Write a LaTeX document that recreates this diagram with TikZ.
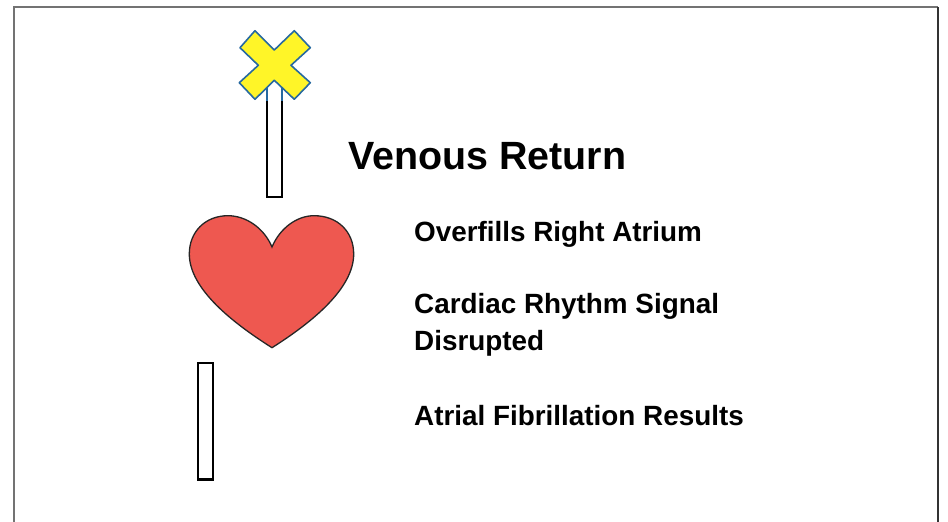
\documentclass[tikz,border=0pt]{standalone}
\usepackage{xcolor}
\usepackage{fontspec}
\setmainfont{Liberation Sans}
\definecolor{heartred}{RGB}{238,88,80}
\definecolor{crossyellow}{RGB}{255,245,40}
\definecolor{crossblue}{RGB}{38,105,160}
\tikzset{
    title/.style={anchor=base west, inner sep=0pt, font=\bfseries\fontsize{39.4}{44}\selectfont},
    item/.style={anchor=base west, inner sep=0pt, font=\bfseries\fontsize{27.85}{37}\selectfont},
    tube/.style={draw=black, line width=2.2pt, fill=white},
    frame/.style={draw=black!55, line width=1.5pt}
}

\begin{document}
\begin{tikzpicture}[x=1pt, y=-1pt]
    \useasboundingbox (0, 0) rectangle (948, 522);

    \draw[frame] (14, 522) -- (14, 7) -- (938, 7);
    \draw[draw=black!80, line width=1.2pt] (938, 7) -- (938, 522);

    \draw[tube] (267, 80) rectangle (282, 197);
    \draw[tube] (198, 363) rectangle (213, 479.5);
    \draw[crossblue, line width=2.2pt] (267, 85) -- (267, 101);
    \draw[crossblue, line width=2.2pt] (282, 85) -- (282, 101);

    \draw[draw=crossblue, fill=crossyellow, line width=1.6pt, line join=round]
        (255, 30.7) -- (274.3, 50) -- (294.3, 30.7) -- (310.3, 47.7) -- (291, 65.3)
        -- (310.3, 82.7) -- (294.3, 99.3) -- (274.3, 80.3) -- (255, 99.3)
        -- (239.3, 82.7) -- (258.3, 65.3) -- (240, 47.7) -- cycle;

    \draw[draw=black!85, fill=heartred, line width=1.3pt]
        (272, 247) .. controls (264, 228) and (246, 215.7) .. (228, 215.7)
        .. controls (205, 215.7) and (189.3, 232) .. (189.3, 254)
        .. controls (189.3, 289) and (233, 323) .. (272, 347.7)
        .. controls (311, 323) and (353.7, 289) .. (353.7, 254)
        .. controls (353.7, 232) and (338, 215.7) .. (314, 215.7)
        .. controls (297, 215.7) and (280, 228) .. (272, 247) -- cycle;

    \node[title] at (348, 169.5) (venous) {Venous Return};
    \node[item] at (414, 241) (overfills) {Overfills Right Atrium};
    \node[item] at (414, 313) (signal) {Cardiac Rhythm Signal};
    \node[item] at (414, 350) (disrupted) {Disrupted};
    \node[item] at (414, 425) (fibrillation) {Atrial Fibrillation Results};
\end{tikzpicture}
\end{document}
